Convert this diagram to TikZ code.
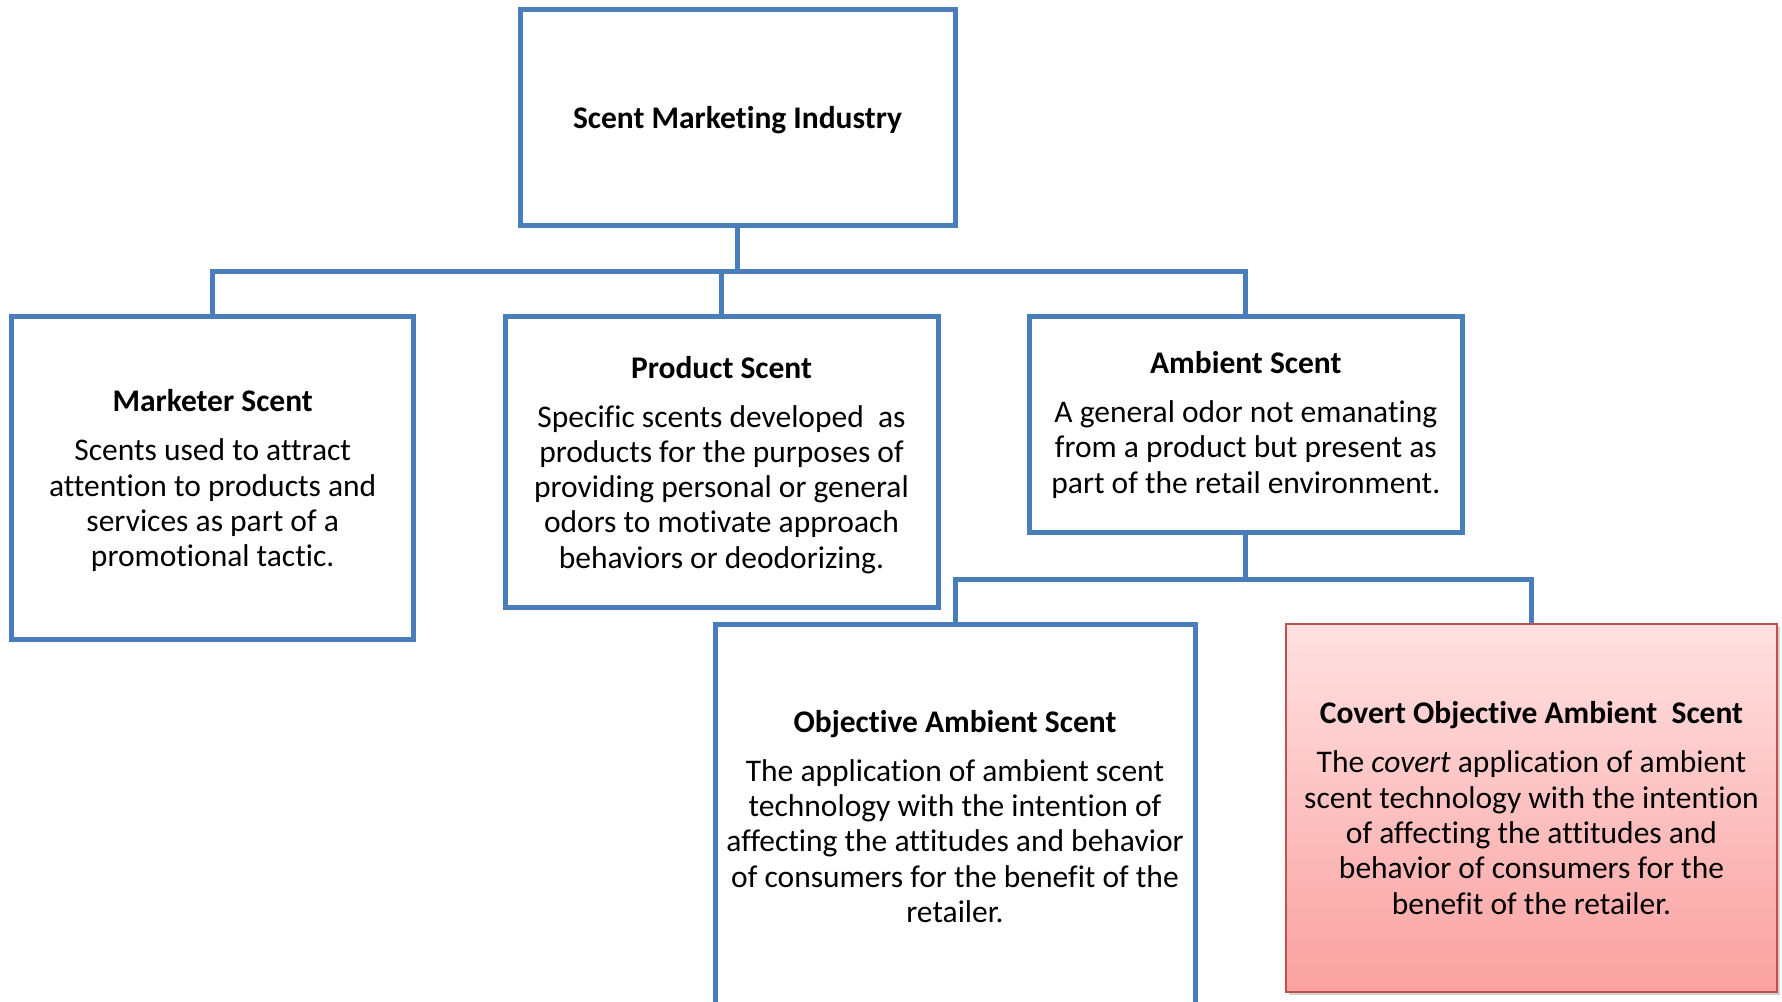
\documentclass[tikz,border=0pt]{standalone}
\usepackage{fontspec}
\setmainfont{Carlito}[Ligatures=NoCommon]
\usetikzlibrary{shadows}
\definecolor{boxblue}{HTML}{4A7EBB}
\definecolor{boxred}{HTML}{C0504D}
\definecolor{pinktop}{HTML}{FFE1E1}
\definecolor{pinkbot}{HTML}{F9A1A0}
\newcommand{\tstrut}{\rule{0pt}{28pt}}
\begin{document}
\begin{tikzpicture}[x=1pt,y=-1pt,
  box/.style={draw=boxblue, line width=5pt, fill=white, inner sep=0pt, align=center,
    font=\fontsize{31.5}{35.3}\selectfont, text=black},
  redbox/.style={box, draw=boxred, line width=2.5pt, top color=pinktop, bottom color=pinkbot,
    drop shadow={shadow xshift=3pt, shadow yshift=-3pt, opacity=0.35}},
  conn/.style={draw=boxblue, line width=5pt}]
\useasboundingbox (0,0) rectangle (1782,1001);
\fill[white] (0,0) rectangle (1782,1001);

\node[box, minimum width=435pt, minimum height=216pt] (top) at (737.5,117.3)
  {\tstrut\bfseries Scent Marketing Industry};

\node[box, minimum width=402.5pt, minimum height=322.5pt] (mark) at (212.7,477.8)
  {\tstrut\bfseries Marketer Scent\\[13.7pt]
   Scents used to attract\\ attention to products and\\ services as part of a\\ promotional tactic.};

\node[box, minimum width=433pt, minimum height=290.5pt] (prod) at (721.5,461.8)
  {\tstrut\bfseries Product Scent\\[13.7pt]
   Specific scents developed\ \ as\\ products for the purposes of\\ providing personal or general\\ odors to motivate approach\\ behaviors or deodorizing.};

\node[box, minimum width=433.5pt, minimum height=216pt] (amb) at (1245.8,424.7)
  {\bfseries Ambient Scent\\[13.7pt]
   A general odor not emanating\\ from a product but present as\\ part of the retail environment.};

\node[box, minimum width=480pt, minimum height=385pt] (obj) at (955,816.5)
  {\bfseries Objective Ambient Scent\\[13.7pt]
   The application of ambient scent\\ technology with the intention of\\ affecting the attitudes and behavior\\ of consumers for the benefit of the\\ retailer.};

\node[redbox, minimum width=491pt, minimum height=368pt] (cov) at (1531.5,808)
  {\bfseries Covert Objective Ambient\ \ Scent\\[13.7pt]
   The \textit{covert} application of ambient\\ scent technology with the intention\\ of affecting the attitudes and\\ behavior of consumers for the\\ benefit of the retailer.};

\coordinate (bar1) at (0,271);
\coordinate (bar2) at (0,579);

\draw[conn] (top.south) -- (top.south |- bar1);
\draw[conn] (mark.north) |- (amb.north |- bar1) -- (amb.north);
\draw[conn] (prod.north) -- (prod.north |- bar1);

\draw[conn] (amb.south) -- (amb.south |- bar2);
\draw[conn] (obj.north) |- (cov.north |- bar2) -- (cov.north);
\end{tikzpicture}
\end{document}
